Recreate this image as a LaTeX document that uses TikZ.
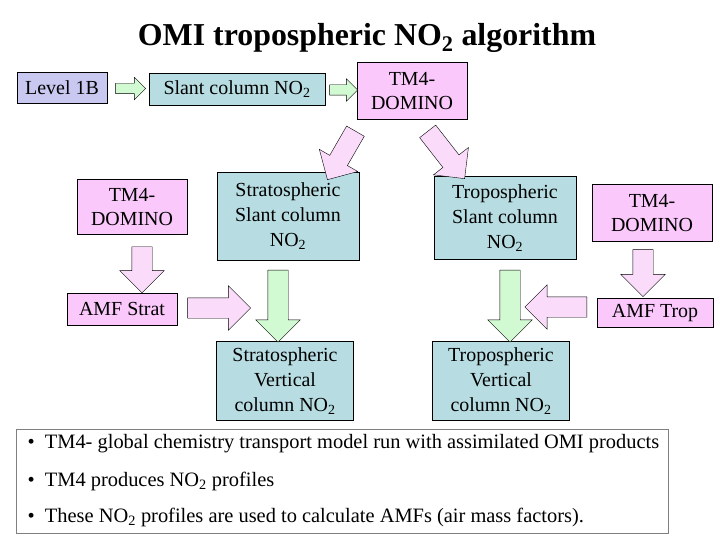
\documentclass[tikz,border=0pt]{standalone}
\usepackage{fontspec}
\setmainfont{Liberation Serif}
\usetikzlibrary{shapes.arrows,calc}
\definecolor{boxteal}{RGB}{183,221,226}
\definecolor{boxpink}{RGB}{250,200,250}
\definecolor{boxblue}{RGB}{200,200,240}
\definecolor{arrgreen}{RGB}{210,250,210}
\definecolor{arrpink}{RGB}{250,220,250}
\newcommand{\nod}{NO\textsubscript{2}}
\tikzset{
  box/.style={draw, fill=#1, align=center, inner sep=0pt, font=\fontsize{20}{25}\selectfont},
  blk/.style={single arrow, draw, fill=#1, inner xsep=0pt, inner ysep=5bp, single arrow head extend=6bp},
  bigblk/.style={single arrow, draw, fill=#1, inner xsep=0pt, inner ysep=10bp, single arrow head extend=12bp},
  note/.style={anchor=west, font=\fontsize{20.5}{24}\selectfont},
}
\begin{document}
\begin{tikzpicture}[x=1bp, y=-1bp]
    \useasboundingbox (0,0) rectangle (720,540);
    \node at (367,38) {\bfseries\fontsize{32}{36}\selectfont OMI tropospheric \nod{} algorithm};

    % top row
    \node[box=boxblue, minimum width=90bp, minimum height=31bp] (l1b) at (62,88) {Level 1B};
    \node[box=boxteal, minimum width=176bp, minimum height=32bp] (scn) at (237,89) {Slant column \nod};
    \node[box=boxpink, minimum width=110bp, minimum height=57bp] (tmt) at (412,91) {TM4-\\DOMINO};

    % middle row
    \node[box=boxpink, minimum width=110bp, minimum height=55bp] (tml) at (132,207) {TM4-\\DOMINO};
    \node[box=boxteal, minimum width=142bp, minimum height=88bp] (ssc) at (288,216) {Stratospheric\\Slant column\\\nod};
    \node[box=boxteal, minimum width=142bp, minimum height=83bp] (tsc) at (505,218) {Tropospheric\\Slant column\\\nod};
    \node[box=boxpink, minimum width=120bp, minimum height=57bp] (tmr) at (652,213) {TM4-\\DOMINO};

    \node[box=boxpink, minimum width=110bp, minimum height=32bp] (amfs) at (122,309) {AMF Strat};
    \node[box=boxpink, minimum width=116bp, minimum height=29bp] (amft) at (655,313) {AMF Trop};

    % bottom row
    \node[box=boxteal, minimum width=137bp, minimum height=79bp] (svc) at (285,381) {Stratospheric\\Vertical\\column \nod};
    \node[box=boxteal, minimum width=137bp, minimum height=79bp] (tvc) at (501,381) {Tropospheric\\Vertical\\column \nod};

    % block arrows
    \node[blk=arrgreen, minimum height=30bp] (a1) at ($(l1b.east)!0.5!(scn.west)$) {};
    \node[blk=arrgreen, minimum height=28bp] (a2) at ($(scn.east)!0.5!(tmt.west)$) {};
    \node[bigblk=arrpink, minimum height=56bp, rotate=-120] (a3) at (344,151) {};
    \node[bigblk=arrpink, minimum height=60bp, rotate=-52] (a4) at (443,151) {};
    \node[bigblk=arrpink, minimum height=46bp, rotate=-90] (a5) at ($(tml.south)+(10,30)$) {};
    \node[bigblk=arrpink, minimum height=63bp] (a6) at (214,308) {};
    \node[bigblk=arrgreen, minimum height=72bp, rotate=-90] (a7) at (278,301) {};
    \node[bigblk=arrgreen, minimum height=72bp, rotate=-90] (a8) at (510,301) {};
    \node[bigblk=arrpink, minimum height=47bp, rotate=-90] (a9) at (643,268) {};
    \node[bigblk=arrpink, minimum height=62bp, rotate=180] (a10) at (561,307) {};

    % notes
    \node[draw=gray, minimum width=652bp, minimum height=104bp, anchor=north west, inner sep=0pt] (notes) at (16,429) {};
    \node[note] (n1) at (24,444) {• \ TM4- global chemistry transport model run with assimilated OMI products};
    \node[note] (n2) at (24,481) {• \ TM4 produces \nod{} profiles};
    \node[note] (n3) at (24,517) {• \ These \nod{} profiles are used to calculate AMFs (air mass factors).};
\end{tikzpicture}
\end{document}
